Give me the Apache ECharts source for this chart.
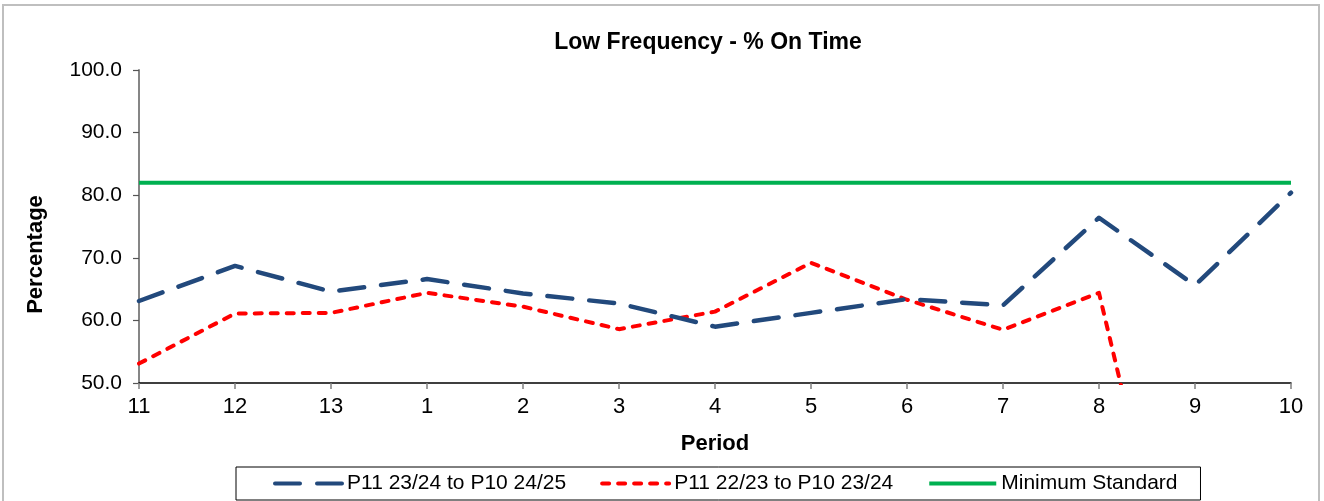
<!DOCTYPE html>
<html>
<head>
<meta charset="utf-8">
<script src="https://cdn.jsdelivr.net/npm/echarts@6/dist/echarts.min.js"></script>
<style>
  html, body { margin: 0; padding: 0; background: #fff; }
  #chart { width: 1324px; height: 501px; }
</style>
</head>
<body>
<div id="chart"></div>
<script>
const categories = ['11', '12', '13', '1', '2', '3', '4', '5', '6', '7', '8', '9', '10'];
const seriesNames = ['P11 23/24 to P10 24/25', 'P11 22/23 to P10 23/24', 'Minimum Standard'];
const current = [63.1, 68.7, 64.6, 66.6, 64.3, 62.7, 59.0, 61.2, 63.4, 62.4, 76.4, 65.6, 80.4];
const previous = [53.1, 61.1, 61.2, 64.4, 62.2, 58.6, 61.4, 69.2, 63.3, 58.5, 64.4, 0, null];
const standard = [82, 82, 82, 82, 82, 82, 82, 82, 82, 82, 82, 82, 82];
const yMin = 50, yMax = 100, yStep = 10;

const FONT = "'Liberation Sans', Arial, sans-serif";
const chart = echarts.init(document.getElementById('chart'), null, { renderer: 'canvas' });

chart.setOption({
  animation: false,
  backgroundColor: '#ffffff',
  textStyle: { fontFamily: FONT, color: '#000' },
  graphic: [{
    type: 'rect',
    shape: { x: 3, y: 5, width: 1316, height: 520 },
    style: { fill: 'none', stroke: '#bfbfbf', lineWidth: 2 },
    silent: true
  }],
  title: {
    text: 'Low Frequency - % On Time',
    left: 703,
    top: 26,
    textAlign: 'center',
    textStyle: { fontFamily: FONT, fontSize: 23, fontWeight: 'bold', color: '#000' }
  },
  grid: { left: 139, right: 33, top: 70, bottom: 118, containLabel: false },
  legend: {
    left: 236,
    top: 467,
    orient: 'horizontal',
    padding: [6, 23, 6, 37],
    itemGap: 34,
    itemWidth: 67,
    itemHeight: 14,
    borderColor: '#000',
    borderWidth: 1,
    itemStyle: { opacity: 0 },
    lineStyle: { width: 4 },
    textStyle: { fontFamily: FONT, fontSize: 21, color: '#000', lineHeight: 20 },
    data: seriesNames
  },
  xAxis: {
    type: 'category',
    data: categories,
    boundaryGap: false,
    name: 'Period',
    nameLocation: 'middle',
    nameGap: 50,
    nameTextStyle: { fontFamily: FONT, fontSize: 22, fontWeight: 'bold', color: '#000' },
    axisLine: { lineStyle: { color: '#000', width: 1.5 } },
    axisTick: { show: true, alignWithLabel: true, length: 6, lineStyle: { color: '#808080', width: 1.5 } },
    axisLabel: { fontFamily: FONT, fontSize: 22, color: '#000', margin: 13 },
    splitLine: { show: false }
  },
  yAxis: {
    type: 'value',
    min: yMin,
    max: yMax,
    interval: yStep,
    name: 'Percentage',
    nameLocation: 'middle',
    nameGap: 92,
    nameRotate: 90,
    nameTextStyle: { fontFamily: FONT, fontSize: 22, fontWeight: 'bold', color: '#000', padding: [0, 56, 0, 0] },
    axisLine: { show: true, lineStyle: { color: '#868686', width: 2 } },
    axisTick: { show: true, length: 6, lineStyle: { color: '#555', width: 1.2 } },
    axisLabel: { fontFamily: FONT, fontSize: 21, color: '#000', margin: 17, formatter: v => v.toFixed(1) },
    splitLine: { show: false }
  },
  series: [
    {
      name: seriesNames[0],
      type: 'line',
      data: current,
      symbol: 'none',
      z: 4,
      color: '#22497C',
      lineStyle: { color: '#22497C', width: 4.5, type: [25, 17], cap: 'round', join: 'round' }
    },
    {
      name: seriesNames[1],
      type: 'line',
      data: previous,
      symbol: 'none',
      z: 3,
      color: '#FF0000',
      lineStyle: { color: '#FF0000', width: 4, type: [7, 9], cap: 'round', join: 'round' }
    },
    {
      name: seriesNames[2],
      type: 'line',
      data: standard,
      symbol: 'none',
      z: 2,
      color: '#00B050',
      lineStyle: { color: '#00B050', width: 4, type: 'solid' }
    }
  ]
});
</script>
</body>
</html>
